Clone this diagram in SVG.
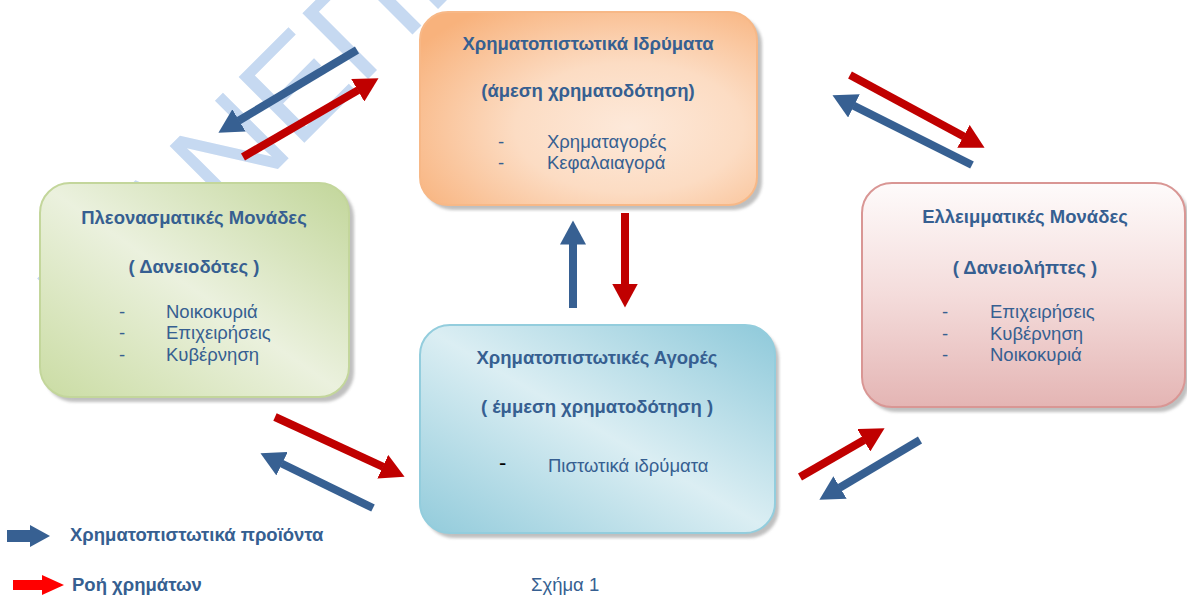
<svg xmlns="http://www.w3.org/2000/svg" width="1187" height="595" viewBox="0 0 1187 595">
<defs>
<style>
.t{font-family:"Liberation Sans",Arial,sans-serif;fill:#365f91;}
.b{font-weight:bold;font-size:18.5px;}
.r{font-size:18.5px;}
.blue{stroke:#376092;stroke-width:8;fill:none;}
.red{stroke:#c00000;stroke-width:8;fill:none;}
.shadow{fill:#8c8c8c;opacity:0.55;}
</style>
<filter id="blur" x="-5%" y="-5%" width="110%" height="110%"><feGaussianBlur stdDeviation="1.5"/></filter>
<marker id="hb" markerUnits="userSpaceOnUse" markerWidth="25" markerHeight="26" refX="0.5" refY="13" orient="auto"><path d="M0,0 L24,13 L0,26 z" fill="#376092"/></marker>
<marker id="hr" markerUnits="userSpaceOnUse" markerWidth="25" markerHeight="26" refX="0.5" refY="13" orient="auto"><path d="M0,0 L24,13 L0,26 z" fill="#c00000"/></marker>
<radialGradient id="gOrange" cx="0.62" cy="0.6" r="0.75">
<stop offset="0" stop-color="#fde9da"/><stop offset="0.45" stop-color="#fcdcc3"/><stop offset="1" stop-color="#f8b27c"/>
</radialGradient>
<linearGradient id="gGreen" x1="1" y1="0" x2="0" y2="1">
<stop offset="0" stop-color="#c2d69a"/><stop offset="0.5" stop-color="#ebf1de"/><stop offset="1" stop-color="#cadca3"/>
</linearGradient>
<linearGradient id="gPink" x1="0" y1="0" x2="0" y2="1">
<stop offset="0" stop-color="#fefbfb"/><stop offset="0.5" stop-color="#f4dcdb"/><stop offset="1" stop-color="#e4b5b4"/>
</linearGradient>
<linearGradient id="gBlue" x1="1" y1="0" x2="0" y2="1">
<stop offset="0" stop-color="#8ec9da"/><stop offset="0.5" stop-color="#dbeef3"/><stop offset="1" stop-color="#92cbdb"/>
</linearGradient>
</defs>
<rect width="1187" height="595" fill="#ffffff"/>

<g id="watermark">
<text x="0" y="0" transform="translate(95,352) rotate(-45)" font-family="Liberation Sans, Arial, sans-serif" font-size="135" fill="#c6d9f1">ΠΑΝΕΠΙ</text>
</g>

<g id="node-institutions">
<rect class="shadow" x="424" y="16" width="338" height="194" rx="28" filter="url(#blur)"/>
<rect x="420" y="12" width="337" height="193" rx="28" fill="url(#gOrange)" stroke="#f7b887" stroke-width="2"/>
<text class="t b" x="588" y="50" text-anchor="middle">Χρηματοπιστωτικά Ιδρύματα</text>
<text class="t b" x="588" y="97" text-anchor="middle">(άμεση χρηματοδότηση)</text>
<text class="t r" x="498" y="148">-</text><text class="t r" x="547" y="148">Χρηματαγορές</text>
<text class="t r" x="498" y="169">-</text><text class="t r" x="547" y="169">Κεφαλαιαγορά</text>
</g>

<g id="node-surplus">
<rect class="shadow" x="44" y="187" width="310" height="215" rx="30" filter="url(#blur)"/>
<rect x="40" y="183" width="309" height="214" rx="30" fill="url(#gGreen)" stroke="#c3d69b" stroke-width="2"/>
<text class="t b" x="194" y="224" text-anchor="middle">Πλεονασματικές Μονάδες</text>
<text class="t b" x="194" y="273" text-anchor="middle">( Δανειοδότες )</text>
<text class="t r" x="119" y="318">-</text><text class="t r" x="166" y="318">Νοικοκυριά</text>
<text class="t r" x="119" y="339">-</text><text class="t r" x="166" y="339">Επιχειρήσεις</text>
<text class="t r" x="119" y="361">-</text><text class="t r" x="166" y="361">Κυβέρνηση</text>
</g>

<g id="node-deficit">
<rect class="shadow" x="866" y="187" width="323" height="225" rx="30" filter="url(#blur)"/>
<rect x="862" y="183" width="323" height="224" rx="30" fill="url(#gPink)" stroke="#d99694" stroke-width="2"/>
<text class="t b" x="1025" y="223" text-anchor="middle">Ελλειμματικές Μονάδες</text>
<text class="t b" x="1025" y="274" text-anchor="middle">( Δανειολήπτες )</text>
<text class="t r" x="942" y="318">-</text><text class="t r" x="990" y="318">Επιχειρήσεις</text>
<text class="t r" x="942" y="340">-</text><text class="t r" x="990" y="340">Κυβέρνηση</text>
<text class="t r" x="942" y="361">-</text><text class="t r" x="990" y="361">Νοικοκυριά</text>
</g>

<g id="node-markets">
<rect class="shadow" x="424" y="329" width="355" height="209" rx="30" filter="url(#blur)"/>
<rect x="420" y="325" width="355" height="208" rx="30" fill="url(#gBlue)" stroke="#93cddd" stroke-width="2"/>
<text class="t b" x="597" y="364" text-anchor="middle">Χρηματοπιστωτικές Αγορές</text>
<text class="t b" x="597" y="413" text-anchor="middle">( έμμεση χρηματοδότηση )</text>
<text x="499" y="470" font-family="Liberation Sans, Arial, sans-serif" font-size="22" fill="#000000">-</text>
<text class="t r" x="548" y="472">Πιστωτικά ιδρύματα</text>
</g>

<g id="connectors">
<line class="blue" x1="357" y1="50" x2="238.6" y2="120.7" marker-end="url(#hb)"/>
<line class="red" x1="243" y1="157" x2="358.2" y2="90.1" marker-end="url(#hr)"/>
<line class="red" x1="850" y1="75" x2="963.9" y2="136.6" marker-end="url(#hr)"/>
<line class="blue" x1="972" y1="165" x2="853.5" y2="105.7" marker-end="url(#hb)"/>
<line class="blue" x1="573" y1="308" x2="573" y2="244" marker-end="url(#hb)"/>
<line class="red" x1="625" y1="213" x2="625" y2="284" marker-end="url(#hr)"/>
<line class="red" x1="275" y1="417" x2="383.2" y2="466.9" marker-end="url(#hr)"/>
<line class="blue" x1="373" y1="508" x2="281.6" y2="463.5" marker-end="url(#hb)"/>
<line class="red" x1="800" y1="477" x2="864.2" y2="440" marker-end="url(#hr)"/>
<line class="blue" x1="920" y1="440" x2="839.6" y2="487.7" marker-end="url(#hb)"/>
</g>

<g id="legend">
<rect x="7" y="530" width="25" height="12" fill="#376092"/>
<polygon points="30,525 50,536 30,547" fill="#376092"/>
<text class="t b" x="70" y="541">Χρηματοπιστωτικά προϊόντα</text>
<rect x="13" y="580" width="31" height="10" fill="#ff0000"/>
<polygon points="42,575 64,585 42,595" fill="#ff0000"/>
<text class="t b" x="72" y="591">Ροή χρημάτων</text>
<text class="t r" x="531" y="591">Σχήμα 1</text>
</g>
</svg>
